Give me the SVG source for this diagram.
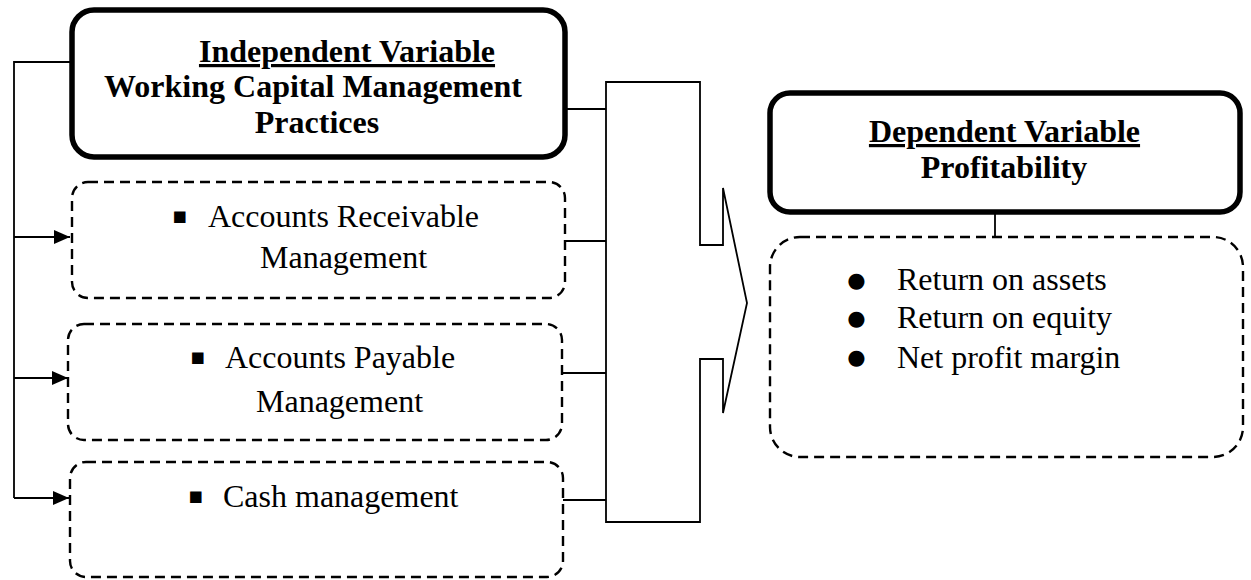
<svg xmlns="http://www.w3.org/2000/svg" width="1251" height="580" viewBox="0 0 1251 580">
<defs>
<marker id="ah" markerWidth="16" markerHeight="14" refX="16" refY="7" orient="auto" markerUnits="userSpaceOnUse">
<path d="M0,0 L16,7 L0,14 Z" fill="#000"/>
</marker>
<style>
.thick{fill:#fff;stroke:#000;stroke-width:5.5}
.dash{fill:#fff;stroke:#000;stroke-width:2.4;stroke-dasharray:10 6}
.ln{fill:none;stroke:#000;stroke-width:1.8}
.t{font-family:"Liberation Serif","Times New Roman",serif;font-size:32px;fill:#000}
.b{font-weight:bold}
.u{text-decoration:underline}
.sq{font-family:"DejaVu Sans",sans-serif;font-size:23px;fill:#000}
.dot{font-family:"DejaVu Sans",sans-serif;font-size:21px;fill:#000}
</style>
</defs>
<rect width="1251" height="580" fill="#fff"/>
<g id="connectors">
<polyline class="ln" points="72,62 14,62 14,498"/>
<line class="ln" x1="14" y1="237" x2="70" y2="237" marker-end="url(#ah)"/>
<line class="ln" x1="14" y1="378" x2="68" y2="378" marker-end="url(#ah)"/>
<line class="ln" x1="14" y1="498" x2="69" y2="498" marker-end="url(#ah)"/>
<line class="ln" x1="565" y1="109" x2="606" y2="109"/>
<line class="ln" x1="565" y1="241" x2="606" y2="241"/>
<line class="ln" x1="562" y1="373" x2="606" y2="373"/>
<line class="ln" x1="563" y1="500" x2="606" y2="500"/>
<line class="ln" x1="995" y1="212" x2="995" y2="237"/>
<path id="blockarrow" class="ln" d="M606,82 L700,82 L700,245 L723,245 L723,188 L747,303 L723,413 L723,359 L700,359 L700,522 L606,522 Z"/>
</g>
<g id="independent">
<rect class="thick" x="72" y="10" width="493" height="147" rx="22"/>
<text class="t b u" x="347" y="62" text-anchor="middle">Independent Variable</text>
<text class="t b" x="313" y="97" text-anchor="middle">Working Capital Management</text>
<text class="t b" x="317" y="133" text-anchor="middle">Practices</text>
</g>
<g id="receivable">
<rect class="dash" x="72" y="182" width="493" height="116" rx="16"/>
<text class="sq" x="172" y="223">▪</text>
<text class="t" x="208" y="227">Accounts Receivable</text>
<text class="t" x="260" y="268">Management</text>
</g>
<g id="payable">
<rect class="dash" x="68" y="324" width="494" height="116" rx="16"/>
<text class="sq" x="190" y="364">▪</text>
<text class="t" x="225" y="368">Accounts Payable</text>
<text class="t" x="256" y="412">Management</text>
</g>
<g id="cash">
<rect class="dash" x="70" y="462" width="493" height="115" rx="16"/>
<text class="sq" x="188" y="503">▪</text>
<text class="t" x="223" y="507">Cash management</text>
</g>
<g id="dependent">
<rect class="thick" x="770" y="93" width="470" height="119" rx="20"/>
<text class="t b u" x="1004.5" y="142" text-anchor="middle">Dependent Variable</text>
<text class="t b" x="1004" y="178" text-anchor="middle">Profitability</text>
</g>
<g id="measures">
<rect class="dash" x="770" y="237" width="473" height="220" rx="30"/>
<text class="dot" x="856.5" y="287" text-anchor="middle">●</text>
<text class="dot" x="856.5" y="325" text-anchor="middle">●</text>
<text class="dot" x="856.5" y="364" text-anchor="middle">●</text>
<text class="t" x="897" y="290">Return on assets</text>
<text class="t" x="897" y="328">Return on equity</text>
<text class="t" x="897" y="368">Net profit margin</text>
</g>
</svg>
